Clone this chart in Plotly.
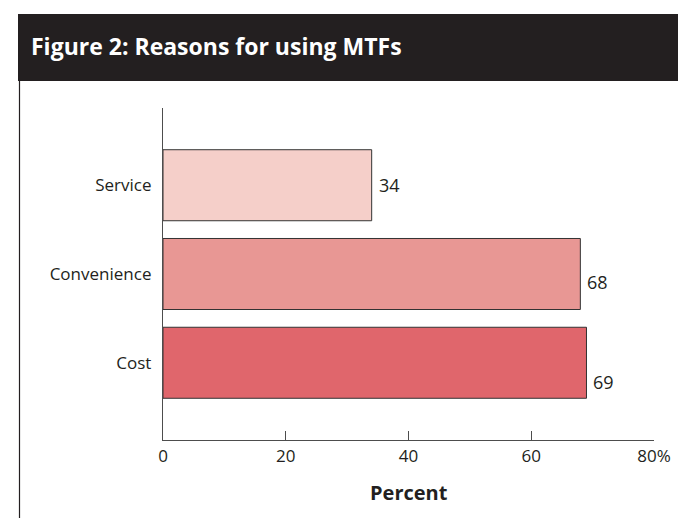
import plotly.graph_objects as go

# ---- data ----
categories = ["Service", "Convenience", "Cost"]
values = [34, 68, 69]
value_labels = ["34", "68", "69"]
x_ticks = [0, 20, 40, 60, 80]
x_tick_labels = ["0", "20", "40", "60", "80%"]
title_text = "Figure 2: Reasons for using MTFs"
x_title = "Percent"

# ---- styles ----
bar_colors = ["#F5CFC9", "#E89794", "#E0666C"]
label_yshift = [0, -8, -19]
TXT = "#231F20"
FONT = "Open Sans, Noto Sans, sans-serif"

W, H = 686, 518
L, R, T, B = 155, 40, 100, 86
pw, ph = W - L - R, H - T - B


def px(x):
    return (x - L) / pw


def py(y):
    return (H - B - y) / ph


fig = go.Figure()
fig.add_trace(go.Bar(
    x=values,
    y=categories,
    orientation="h",
    marker=dict(color=bar_colors, line=dict(color="#333333", width=1)),
    width=0.8,
    hoverinfo="x+y",
))

annotations = []
for cat, v, lab, ys in zip(categories, values, value_labels, label_yshift):
    annotations.append(dict(
        x=v, y=cat, xref="x", yref="y", text=lab, showarrow=False,
        xanchor="left", yanchor="middle", xshift=5, yshift=ys,
        font=dict(family=FONT, size=18, color=TXT),
    ))

annotations.append(dict(
    x=px(21), y=py(38), xref="paper", yref="paper", text="<b>" + title_text + "</b>",
    showarrow=False, xanchor="left", yanchor="middle",
    font=dict(family=FONT, size=23, color="white"),
))
annotations.append(dict(
    x=0.5, y=py(484), xref="paper", yref="paper", text="<b>" + x_title + "</b>",
    showarrow=False, xanchor="center", yanchor="middle",
    font=dict(family=FONT, size=20, color=TXT),
))

shapes = [
    dict(type="rect", xref="paper", yref="paper", x0=px(10), x1=px(W), y0=py(73), y1=py(6),
         fillcolor="#231F20", line=dict(width=0), layer="above"),
    dict(type="line", xref="paper", yref="paper", x0=px(11.5), x1=px(11.5), y0=py(73), y1=py(H),
         line=dict(color="#231F20", width=1.2)),
]

fig.update_layout(
    width=W, height=H,
    margin=dict(l=L, r=R, t=T, b=B, pad=0),
    paper_bgcolor="white", plot_bgcolor="white",
    showlegend=False,
    font=dict(family=FONT, size=17, color=TXT),
    annotations=annotations,
    shapes=shapes,
    xaxis=dict(
        range=[0, 80], tickvals=x_ticks, ticktext=x_tick_labels,
        showgrid=False, zeroline=False, showline=True, linecolor="#4D4D4D", linewidth=1.3,
        ticks="inside", ticklen=9, tickwidth=1.3, tickcolor="#4D4D4D",
        tickfont=dict(family=FONT, size=17, color=TXT), fixedrange=True,
    ),
    yaxis=dict(
        categoryorder="array", categoryarray=list(reversed(categories)),
        range=[-0.87, 2.87],
        showgrid=False, zeroline=False, showline=True, linecolor="#4D4D4D", linewidth=1.3,
        ticks="", ticklabelstandoff=7,
        tickfont=dict(family=FONT, size=17, color=TXT), fixedrange=True,
    ),
)

fig.write_html("out.html")
